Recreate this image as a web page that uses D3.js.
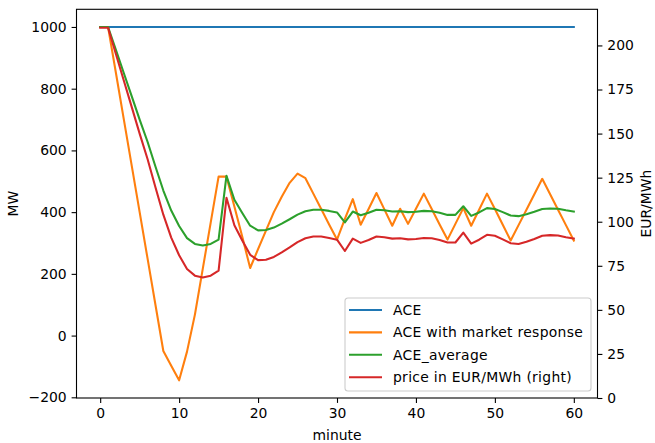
<!DOCTYPE html>
<meta charset="utf-8">
<style>
body { margin: 0; background: #fff; }
text {
  font-family: "DejaVu Sans", sans-serif;
  font-size: 13.9px;
}
.axis path, .axis line { stroke: #000; stroke-width: 1.1px; }
.axis text { fill: #000; }
.item text { letter-spacing: 0.3px; }
</style>
<svg width="655" height="443"></svg>
<script src="https://d3js.org/d3.v7.min.js"></script>
<script>
// minutes on the x axis
var minutes = [0,1,2,3,4,5,6,7,8,9,10,11,12,13,14,15,16,17,18,19,20,
  21,22,23,24,25,26,27,28,29,30,31,32,33,34,35,36,37,38,39,40,
  41,42,43,44,45,46,47,48,49,50,51,52,53,54,55,56,57,58,59,60];

// MW series (left axis)
var ace = [1000,1000,1000,1000,1000,1000,1000,1000,1000,1000,1000,
  1000,1000,1000,1000,1000,1000,1000,1000,1000,1000,
  1000,1000,1000,1000,1000,1000,1000,1000,1000,1000,
  1000,1000,1000,1000,1000,1000,1000,1000,1000,1000,
  1000,1000,1000,1000,1000,1000,1000,1000,1000,1000,
  1000,1000,1000,1000,1000,1000,1000,1000,1000,1000];

var aceMarket = [1000,1000,850,700,550,400,250,100,-50,-98,-145,
  -52,68,217,366,515,515,418,320,219,280,
  340,400,450,495,525,510,460,410,360,311,
  378,442,359,410,462,409,356,411,362,411,
  460,410,360,311,362,413,356,408,460,410,
  359,308,358,408,458,508,458,408,358,308];

var aceAverage = [1000,1000,925,850,775,700,628,548,470,405,355,
  316,297,292,297,311,518,440,397,356,341,
  342,350,363,377,392,403,408,408,404,399,
  367,402,390,398,408,406,402,403,400,401,
  404,403,398,391,391,419,388,399,413,410,
  400,389,387,393,401,410,412,411,406,402];

// EUR/MWh (right axis)
var price = [210,210,195,180,165,150,135.6,119.6,104,91,81,
  73.2,69.4,68.4,69.4,72.2,113.6,98,89.4,81.2,78.2,
  78.4,80,82.6,85.4,88.4,90.6,91.6,91.6,90.8,89.8,
  83.4,90.4,88,89.6,91.6,91.2,90.4,90.6,90,90.2,
  90.8,90.6,89.6,88.2,88.2,93.8,87.6,89.8,92.6,92,
  90,87.8,87.4,88.6,90.2,92,92.4,92.2,91.2,90.4];

var xTicks = [0,10,20,30,40,50,60];
var leftTicks = [-200,0,200,400,600,800,1000];
var rightTicks = [0,25,50,75,100,125,150,175,200];

var seriesNames = ["ACE", "ACE with market response", "ACE_average", "price in EUR/MWh (right)"];
var colors = ["#1f77b4", "#ff7f0e", "#2ca02c", "#d62728"];

var svg = d3.select("svg");

// plot area edges (top is reserved by window, so prefix them)
var pLeft = 76.5, pRight = 597.5, pTop = 9.3, pBottom = 398;

var x = d3.scaleLinear().domain([-3, 63]).range([pLeft, pRight]);
var yL = d3.scaleLinear().domain([-202.25, 1057.25]).range([pBottom, pTop]);
var yR = d3.scaleLinear().domain([0, 220.5]).range([pBottom, pTop]);

var plot = svg.append("g");

function drawLine(values, yScale, color) {
  var line = d3.line()
    .x(function(d, i) { return x(minutes[i]); })
    .y(function(d) { return yScale(d); });
  plot.append("path")
    .datum(values)
    .attr("fill", "none")
    .attr("stroke", color)
    .attr("stroke-width", 2.08)
    .attr("stroke-linejoin", "round")
    .attr("stroke-linecap", "square")
    .attr("d", line);
}

drawLine(ace, yL, colors[0]);
drawLine(aceMarket, yL, colors[1]);
drawLine(aceAverage, yL, colors[2]);
drawLine(price, yR, colors[3]);

// frame
svg.append("rect")
  .attr("x", pLeft).attr("y", pTop)
  .attr("width", pRight - pLeft).attr("height", pBottom - pTop)
  .attr("fill", "none").attr("stroke", "#000").attr("stroke-width", 1.1);

svg.append("g").attr("class", "axis")
  .attr("transform", "translate(0," + pBottom + ")")
  .call(d3.axisBottom(x).tickValues(xTicks).tickSize(4.9).tickPadding(4.9).tickSizeOuter(0))
  .select(".domain").remove();

svg.append("g").attr("class", "axis")
  .attr("transform", "translate(" + pLeft + ",0)")
  .call(d3.axisLeft(yL).tickValues(leftTicks).tickSize(4.9).tickPadding(4.9).tickSizeOuter(0)
    .tickFormat(function(d) { return d < 0 ? "\u2212" + Math.abs(d) : d; }))
  .select(".domain").remove();

svg.append("g").attr("class", "axis")
  .attr("transform", "translate(" + pRight + ",0)")
  .call(d3.axisRight(yR).tickValues(rightTicks).tickSize(4.9).tickPadding(4.9).tickSizeOuter(0))
  .select(".domain").remove();

svg.selectAll(".axis text").attr("font-size", "13.9px").attr("font-family", "DejaVu Sans");

// axis labels
svg.append("text")
  .attr("x", (pLeft + pRight) / 2).attr("y", 440)
  .attr("text-anchor", "middle")
  .text("minute");

svg.append("text")
  .attr("transform", "translate(18," + (pTop + pBottom) / 2 + ") rotate(-90)")
  .attr("text-anchor", "middle")
  .text("MW");

svg.append("text")
  .attr("transform", "translate(651," + (pTop + pBottom) / 2 + ") rotate(-90)")
  .attr("text-anchor", "middle")
  .text("EUR/MWh");

// legend
var legend = svg.append("g").attr("transform", "translate(345,298)");
legend.append("rect")
  .attr("width", 246).attr("height", 93)
  .attr("rx", 3).attr("ry", 3)
  .attr("fill", "#fff").attr("fill-opacity", 0.8)
  .attr("stroke", "#ccc").attr("stroke-width", 1.1);

var item = legend.selectAll(".item")
  .data(seriesNames)
  .enter().append("g")
  .attr("class", "item")
  .attr("transform", function(d, i) { return "translate(0," + (12 + i * 22.4) + ")"; });

item.append("line")
  .attr("x1", 4).attr("x2", 37)
  .attr("stroke", function(d, i) { return colors[i]; })
  .attr("stroke-width", 2.08);

item.append("text")
  .attr("x", 48).attr("dy", "0.35em")
  .text(function(d) { return d; });
</script>
